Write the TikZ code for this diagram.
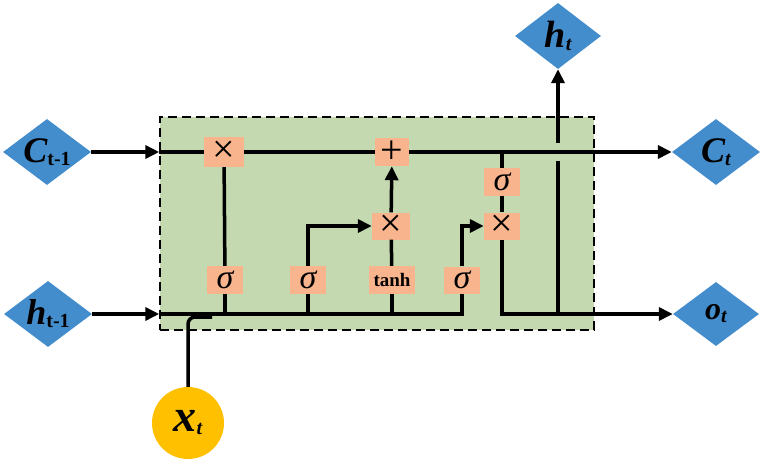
\documentclass[tikz,border=0pt]{standalone}
\usepackage{fontspec}
\setmainfont{Liberation Serif}
\usetikzlibrary{shapes.geometric,arrows.meta,calc,positioning}
\definecolor{lstmCell}{RGB}{197,217,176}
\definecolor{lstmGate}{RGB}{248,180,140}
\definecolor{lstmVar}{RGB}{68,141,204}
\definecolor{lstmInput}{RGB}{255,192,0}
\newcommand{\lstmvar}[3]{{\fontsize{#3}{#3}\selectfont\bfseries\itshape #1}\raisebox{-3pt}{\fontsize{20}{20}\selectfont\bfseries #2}}
\tikzset{
    gate/.style={
        rectangle,
        fill=lstmGate,
        inner sep=0pt,
        minimum width=36pt,
        minimum height=27pt,
        font=\fontsize{34}{34}\selectfont
    },
    var/.style={
        diamond,
        fill=lstmVar,
        inner sep=0pt,
        minimum width=88pt,
        minimum height=66pt
    },
    % Connectors
    flow/.style={line width=3.5pt},
    arr/.style={flow, -{Triangle[length=14pt,width=13pt]}}
}
\begin{document}
\begin{tikzpicture}[x=1pt, y=-1pt]
\useasboundingbox (0,0) rectangle (762,465);
% cell
\node[draw, dash pattern=on 9pt off 5pt, line width=1.5pt, fill=lstmCell, minimum width=434pt, minimum height=213pt, inner sep=0pt] (cell) at (377,223.5) {};
% inputs and outputs
\node[var, label={center:\lstmvar{C}{t-1}{36}}] (cprev) at (47,152) {};
\node[var, label={center:\lstmvar{h}{t-1}{36}}] (hprev) at (48,314) {};
\node[var, minimum width=86pt, label={center:\lstmvar{h}{\itshape t}{38}}] (ht) at (558,36) {};
\node[var, label={center:\lstmvar{C}{\itshape t}{36}}] (ct) at (716,152) {};
\node[var, minimum width=86pt, minimum height=64pt, label={center:\lstmvar{o}{\itshape t}{32}}] (ot) at (716,314) {};
\node[circle, fill=lstmInput, minimum size=72pt, inner sep=0pt, label={center:\lstmvar{x}{\itshape t}{46}}] (xt) at (188,423) {};
% gates
\node[gate, minimum width=40pt, minimum height=30pt, font=\fontsize{40}{40}\selectfont] (fmul) at (224,152) {×};
\node[gate, minimum width=34pt, minimum height=28pt, font=\fontsize{40}{40}\selectfont] (add) at (392,152) {+};
\node[gate, minimum width=38pt, font=\fontsize{40}{40}\selectfont] (imul) at (391,226) {×};
\node[gate, minimum height=28pt] (fsig) at (225,280) {\itshape σ};
\node[gate, minimum height=28pt] (isig) at (308,280) {\itshape σ};
\node[gate, minimum width=46pt, minimum height=28pt, font=\fontsize{19}{19}\selectfont\bfseries] (tnh) at (392,280) {tanh};
\node[gate] (osig) at (462,280) {\itshape σ};
\node[gate, font=\fontsize{40}{40}\selectfont] (omul) at (502,226) {×};
\node[gate] (osigc) at (502,182) {\itshape σ};
% cell state line
\draw[arr] (cprev) -- (cprev -| cell.west);
\draw[flow] (cprev -| cell.west) -- (fmul);
\draw[flow] (fmul) -- (add);
\draw[arr] (add) -- (ct);
% hidden state line
\draw[arr] (hprev) -- (hprev -| cell.west);
\draw[flow] (hprev -| cell.west) -| (osig);
\draw[flow, rounded corners=7pt] (xt) |- ($(xt |- hprev)+(24,3)$);
\draw[flow] (fsig |- hprev) -- (fsig);
\draw[flow] (isig |- hprev) -- (isig);
\draw[flow] (tnh |- hprev) -- (tnh);
% gate links
\draw[flow] (fsig) -- (fmul);
\draw[arr] (isig) |- (imul);
\draw[flow] (tnh) -- (imul);
\draw[arr] (imul) -- (add);
\draw[arr] (osig) |- (omul);
\draw[flow] (add -| osigc) -- (osigc);
\draw[flow] (osigc) -- (omul);
\draw[arr] (omul) |- (ot);
\draw[flow] ($(ht |- ct)+(0,9)$) -- (ht |- ot);
\draw[arr] ($(ht |- ct)+(0,-9)$) -- (ht);
\end{tikzpicture}
\end{document}
